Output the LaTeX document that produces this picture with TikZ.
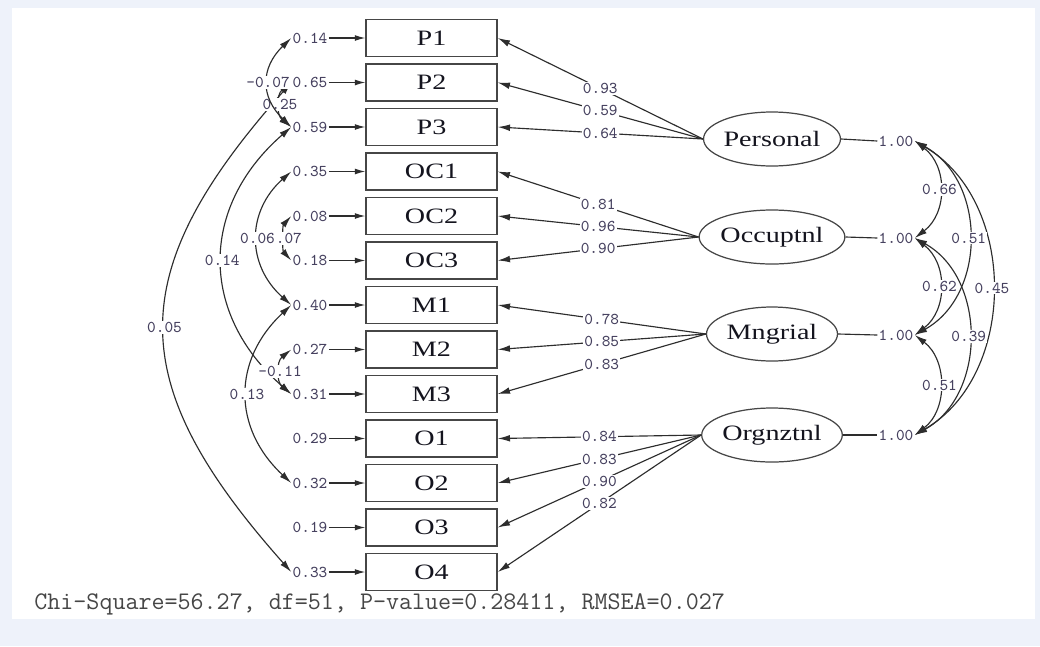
\documentclass[tikz,border=0pt]{standalone}
\usepackage{fontspec}
\setmainfont{Liberation Serif}
\newfontfamily\lblfont[FakeStretch=1.28]{Liberation Serif}
\usetikzlibrary{arrows.meta,shapes.geometric}
\definecolor{bgc}{RGB}{238,242,250}
\definecolor{boxc}{RGB}{70,70,70}
\definecolor{linec}{RGB}{45,45,45}
\definecolor{numc}{RGB}{70,65,95}
\definecolor{txtc}{RGB}{20,20,30}
\definecolor{fitc}{RGB}{70,70,70}
\begin{document}
\begin{tikzpicture}[x=0.02cm,y=-0.02cm,
  ind/.style={draw=boxc, line width=0.8pt, minimum width=2.62cm, minimum height=0.74cm, inner sep=0pt, text=txtc, font=\lblfont\fontsize{12.5}{14}\selectfont},
  lat/.style={ellipse, draw=boxc, line width=0.7pt, minimum width=2.62cm, minimum height=1.08cm, inner sep=0pt, text=txtc, font=\lblfont\fontsize{12.5}{14}\selectfont},
  num/.style={font=\ttfamily\fontsize{9.4}{10}\selectfont, text=numc, inner sep=0.6pt},
  lbl/.style={num, fill=white},
  conn/.style={draw=linec, line width=0.65pt},
  one/.style={conn, -{Latex[length=7pt,width=3.8pt]}},
  err/.style={conn, -{Latex[length=6pt,width=3.4pt]}},
  two/.style={conn, {Latex[length=7pt,width=3.8pt]}-{Latex[length=7pt,width=3.8pt]}},
  fit/.style={anchor=west, font=\ttfamily\fontsize{14.4}{16}\selectfont, text=fitc, inner sep=0pt}
]
\fill[bgc] (0,0) rectangle (1040,646);
\fill[white] (12,8) rectangle (1035,619);
\useasboundingbox (0,0) rectangle (1040,646);

% indicators and error variances
\foreach \n/\t/\v [count=\i from 0] in {p1/P1/0.14,p2/P2/0.65,p3/P3/0.59,oc1/OC1/0.35,oc2/OC2/0.08,oc3/OC3/0.18,m1/M1/0.40,m2/M2/0.27,m3/M3/0.31,o1/O1/0.29,o2/O2/0.32,o3/O3/0.19,o4/O4/0.33}{
  \node[ind] (\n) at (431.5, 38+44.5*\i) {\t};
  \node[num] (e\n) at (310, 38+44.5*\i) {\v};
  \draw[err] (e\n.east) -- (\n.west);
}

% latent variables
\node[lat] (per) at (772,139) {Personal};
\node[lat] (occ) at (772,237) {Occuptnl};
\node[lat] (mng) at (772,334) {Mngrial};
\node[lat] (org) at (772,435) {Orgnztnl};

% loadings
\draw[one] (per.west) -- node[lbl] {0.93} (p1.east);
\draw[one] (per.west) -- node[lbl] {0.59} (p2.east);
\draw[one] (per.west) -- node[lbl] {0.64} (p3.east);
\draw[one] (occ.west) -- node[lbl] {0.81} (oc1.east);
\draw[one] (occ.west) -- node[lbl] {0.96} (oc2.east);
\draw[one] (occ.west) -- node[lbl] {0.90} (oc3.east);
\draw[one] (mng.west) -- node[lbl] {0.78} (m1.east);
\draw[one] (mng.west) -- node[lbl] {0.85} (m2.east);
\draw[one] (mng.west) -- node[lbl] {0.83} (m3.east);
\draw[one] (org.west) -- node[lbl] {0.84} (o1.east);
\draw[one] (org.west) -- node[lbl] {0.83} (o2.east);
\draw[one] (org.west) -- node[lbl] {0.90} (o3.east);
\draw[one] (org.west) -- node[lbl] {0.82} (o4.east);

% latent variances
\node[num] (vper) at (896,141) {1.00};
\node[num] (vocc) at (896,238) {1.00};
\node[num] (vmng) at (896,335) {1.00};
\node[num] (vorg) at (896,435) {1.00};
\draw[conn] (per.east) -- (vper.west);
\draw[conn] (occ.east) -- (vocc.west);
\draw[conn] (mng.east) -- (vmng.west);
\draw[conn] (org.east) -- (vorg.west);

% latent correlations
\draw[two] (vper.east) .. controls +(103,60) and +(103,-60) .. node[lbl] {0.45} (vorg.east);
\draw[two] (vper.east) .. controls +(72,40) and +(72,-40) .. node[lbl] {0.51} (vmng.east);
\draw[two] (vocc.east) .. controls +(72,40) and +(72,-40) .. node[lbl] {0.39} (vorg.east);
\draw[two] (vper.east) .. controls +(33,25) and +(33,-25) .. node[lbl] {0.66} (vocc.east);
\draw[two] (vocc.east) .. controls +(33,25) and +(33,-25) .. node[lbl] {0.62} (vmng.east);
\draw[two] (vmng.east) .. controls +(33,25) and +(33,-25) .. node[lbl] {0.51} (vorg.east);

% error covariances
\draw[two] (ep2.west) .. controls +(-169,190) and +(-169,-190) .. node[lbl] {0.05} (eo4.west);
\draw[two] (ep3.west) .. controls +(-92,80) and +(-92,-80) .. node[lbl] {0.14} (em3.west);
\draw[two] (em1.west) .. controls +(-59,55) and +(-59,-55) .. node[lbl] {0.13} (eo2.west);
\draw[two] (eoc2.west) .. controls +(-9,10) and +(-9,-10) .. node[lbl] {0.07} (eoc3.west);
\draw[two] (eoc1.west) .. controls +(-45,40) and +(-45,-40) .. node[lbl] {0.06} (em1.west);
\draw[two] (em2.west) .. controls +(-15,12) and +(-15,-12) .. node[lbl] {-0.11} (em3.west);
\draw[two] (ep2.west) .. controls +(-15,12) and +(-15,-12) .. node[lbl] {0.25} (ep3.west);
\draw[two] (ep1.west) .. controls +(-31,30) and +(-31,-30) .. node[lbl] {-0.07} (ep3.west);

% fit statistics
\node[fit] (fitline) at (34,604) {Chi-Square=56.27, df=51, P-value=0.28411, RMSEA=0.027};
\end{tikzpicture}
\end{document}
